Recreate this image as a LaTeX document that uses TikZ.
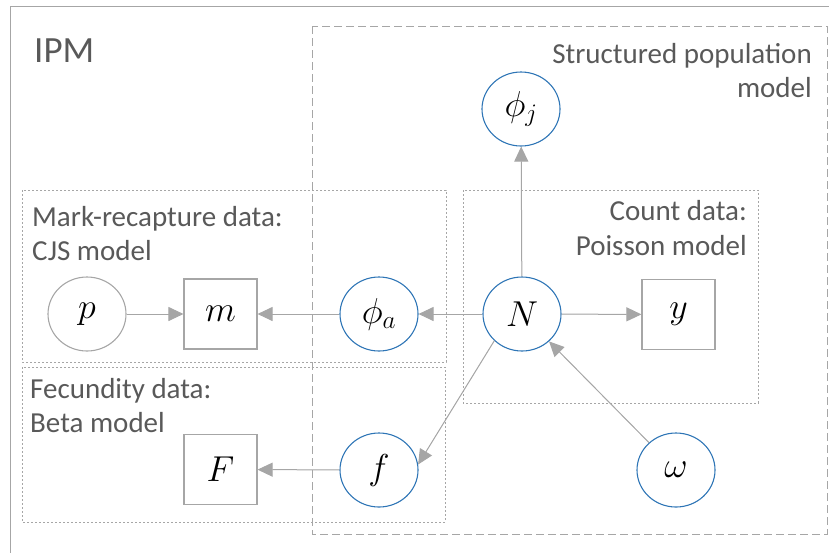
\RequirePackage{fix-cm}
\documentclass[tikz,border=0pt]{standalone}
\usepackage{fontspec}
\setmainfont{Carlito}
\usetikzlibrary{arrows.meta,shapes.geometric}
\definecolor{linegray}{RGB}{166,166,166}
\definecolor{textgray}{RGB}{89,89,89}
\definecolor{nodeblue}{RGB}{46,117,182}
\newcommand\varsize{\fontsize{36}{40}\selectfont}
\newcommand\labelsize{\fontsize{29}{34}\selectfont}
\begin{document}
\begin{tikzpicture}[x=1pt,y=-1pt,
  latent/.style={ellipse, draw=nodeblue, line width=1.1pt, minimum width=78pt,
    minimum height=74pt, inner sep=0pt, font=\varsize},
  fixedpar/.style={latent, draw=linegray},
  datanode/.style={rectangle, draw=linegray, line width=1.1pt, minimum width=73pt,
    minimum height=70pt, inner sep=0pt, font=\varsize},
  conn/.style={draw=linegray, line width=1pt,
    -{Triangle[length=15pt,width=14pt]}, fill=linegray},
  lbl/.style={text=textgray, font=\labelsize, inner sep=0pt},
  framebox/.style={draw=linegray, line width=1pt},
  submodel/.style={draw=linegray, line width=0.9pt, dash pattern=on 2pt off 2pt},
  popmodel/.style={draw=linegray, line width=1pt, dash pattern=on 8pt off 4pt}]
\useasboundingbox (0,0) rectangle (829,552);
\clip (0,0) rectangle (829,552);

% outer IPM frame and sub-model boxes
\draw[framebox] (10,6) rectangle (845,570);
\draw[popmodel] (312,26) rectangle (827,534);
\draw[submodel] (22,190) rectangle (446,362);
\draw[submodel] (22,367) rectangle (445,522);
\draw[submodel] (463,190) rectangle (758,403);

% box labels
\node[lbl, anchor=base west, font=\fontsize{37}{42}\selectfont] (ipm) at (34,62) {IPM};
\node[lbl, anchor=base east] (spm1) at (812,63) {Structured population};
\node[lbl, anchor=base east] (spm2) at (812,97) {model};
\node[lbl, anchor=base west] (mr1) at (32,226) {Mark-recapture data:};
\node[lbl, anchor=base west] (mr2) at (32,260) {CJS model};
\node[lbl, anchor=base east] (cd1) at (747,220) {Count data:};
\node[lbl, anchor=base east] (cd2) at (747,255) {Poisson model};
\node[lbl, anchor=base west] (fd1) at (30,398) {Fecundity data:};
\node[lbl, anchor=base west] (fd2) at (30,432) {Beta model};

% model nodes
\node[latent] (phij) at (521,109) {$\phi_j$};
\node[latent] (N) at (522,314) {$N$};
\node[latent] (phia) at (379,314) {$\phi_a$};
\node[fixedpar] (p) at (87,314) {$p$};
\node[datanode] (m) at (220.5,314) {$m$};
\node[datanode] (y) at (678.5,314.5) {$y$};
\node[datanode] (F) at (220.5,469.5) {$F$};
\node[latent] (f) at (379,470) {$f$};
\node[latent] (omega) at (676,470) {$\omega$};

% dependencies
\draw[conn] (N) -- (phij);
\draw[conn] (N) -- (y);
\draw[conn] (N) -- (phia);
\draw[conn] (phia) -- (m);
\draw[conn] (p) -- (m);
\draw[conn] (f) -- (F);
\draw[conn] (N.224) -- (f.8);
\draw[conn] (omega) -- (N);
\end{tikzpicture}
\end{document}
